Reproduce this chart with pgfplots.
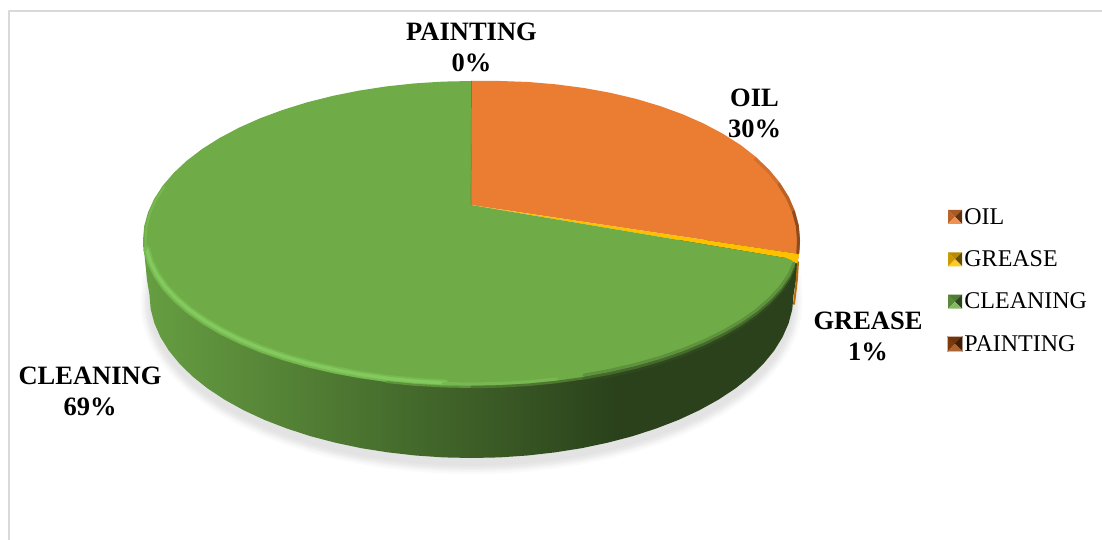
\documentclass[border=0pt]{standalone}
\usepackage{fontspec}
\setmainfont{Liberation Serif}
\usepackage{pgfplots}
\usepackage{pgfplotstable}
\pgfplotsset{compat=1.18}
\definecolor{oil}{HTML}{EB7D32}
\definecolor{grease}{HTML}{FFC000}
\definecolor{cleaning}{HTML}{6FAC47}
\definecolor{painting}{HTML}{9E480E}
\definecolor{frame}{HTML}{D9D9D9}
\definecolor{rimlight}{HTML}{82C95E}
\tikzset{lab/.style={font=\fontsize{26.5}{31}\selectfont\bfseries, align=center, inner sep=0pt}}
% side wall of the disc, light on the left and dark from x=620 on
\pgfdeclarehorizontalshading{sidewall}{100bp}{
  color(0bp)=(cleaning!92!black);
  color(25bp)=(cleaning!92!black);
  color(33bp)=(cleaning!80!black);
  color(41bp)=(cleaning!68!black);
  color(45bp)=(cleaning!62!black);
  color(52bp)=(cleaning!52!black);
  color(61bp)=(cleaning!38!black);
  color(75bp)=(cleaning!38!black);
  color(100bp)=(cleaning!38!black)}
% pixel coordinates of the lower edge of the disc, for the shadow
\pgfplotstableread{
x y
152 270
149.5 295
150.7 309.2
154.4 323.3
160.5 337.2
168.9 350.7
179.7 363.9
192.6 376.5
207.7 388.5
224.8 399.8
243.8 410.3
264.5 419.9
286.8 428.5
310.5 436.2
335.4 442.7
361.4 448.2
388.2 452.4
415.6 455.5
443.4 457.4
471.5 458
499.6 457.4
527.4 455.5
554.8 452.4
581.6 448.2
607.6 442.7
632.5 436.2
656.2 428.5
678.5 419.9
699.2 410.3
718.2 399.8
735.3 388.5
750.4 376.5
763.3 363.9
774.1 350.7
782.5 337.2
788.6 323.3
792.3 309.2
793.5 295
792 270
}\lowedge
% rim of the top face, lower left, lit
\pgfplotstableread{
x y
144.2 252.8
148 265.5
154.2 278
162.8 290.3
173.8 302.1
187 313.5
202.4 324.3
219.9 334.5
239.2 343.9
260.3 352.6
283.1 360.4
307.2 367.3
332.7 373.2
359.1 378.1
386.5 382
414.5 384.8
442.9 386.4
}\rimlit
% rim of the top face, lower right, in shade
\pgfplotstableread{
x y
583.9 378.1
610.3 373.2
635.8 367.3
659.9 360.4
682.7 352.6
703.8 343.9
723.1 334.5
740.6 324.3
756 313.5
769.2 302.1
780.2 290.3
788.8 278
794 266
}\rimdark
\newcommand\pyrkey[1]{%
  \fill[#1!80!black] (0pt,-7pt) -- (7pt,0pt) -- (0pt,7pt) -- cycle;
  \fill[#1!72!black] (0pt,7pt) -- (7pt,0pt) -- (14pt,7pt) -- cycle;
  \fill[#1!40!black] (14pt,7pt) -- (7pt,0pt) -- (14pt,-7pt) -- cycle;
  \fill[#1!85!white] (0pt,-7pt) -- (7pt,0pt) -- (14pt,-7pt) -- cycle;}
\begin{document}
\begin{tikzpicture}
\begin{axis}[
    scale only axis,
    width=1102pt,
    height=540pt,
    xmin=0, xmax=1102,
    ymin=0, ymax=540,
    y dir=reverse,
    ticks=none,
    axis line style={draw=none},
    axis background/.style={fill=white},
    legend style={at={(axis cs:947.5,206)}, anchor=north west, draw=none, fill=none,
      font=\fontsize{24}{26}\selectfont, row sep=21pt, inner sep=0pt},
    legend cell align=left,
    extra/.style={forget plot, line join=round, line cap=round},
  ]
  % frame of the chart area
  \addplot[extra, frame, line width=1.2pt] coordinates {(9,540) (9,11) (1102,11)};
  % shadow under the disc
  \addplot[extra, fill=black!2, draw=black!2, line width=18pt, yshift=-7pt] table {\lowedge};
  \addplot[extra, fill=black!4, draw=black!4, line width=14pt, yshift=-7pt] table {\lowedge};
  \addplot[extra, fill=black!7, draw=black!7, line width=10pt, yshift=-7pt] table {\lowedge};
  \addplot[extra, fill=black!9, draw=black!9, line width=6pt, yshift=-7pt] table {\lowedge};
  \addplot[extra, fill=black!11, draw=black!11, line width=2pt, yshift=-7pt] table {\lowedge};
  % side wall
  \addplot[extra, shade, shading=sidewall, draw=none] coordinates {
    (143,240) (147,280) (149.5,295) (150.7,309.2) (154.4,323.3) (160.5,337.2) (168.9,350.7)
    (179.7,363.9) (192.6,376.5) (207.7,388.5) (224.8,399.8) (243.8,410.3) (264.5,419.9)
    (286.8,428.5) (310.5,436.2) (335.4,442.7) (361.4,448.2) (388.2,452.4) (415.6,455.5)
    (443.4,457.4) (471.5,458) (499.6,457.4) (527.4,455.5) (554.8,452.4) (581.6,448.2)
    (607.6,442.7) (632.5,436.2) (656.2,428.5) (678.5,419.9) (699.2,410.3) (718.2,399.8)
    (735.3,388.5) (750.4,376.5) (763.3,363.9) (774.1,350.7) (782.5,337.2) (788.6,323.3)
    (792.3,309.2) (793.5,295) (796,280) (800,240)};
  % thin wall of the two small slices on the far right
  \addplot[extra, painting!70!grease, line width=2pt] coordinates {(798,262) (796.8,280) (794,304)};
  % OIL 30%
  \addplot[oil, fill=oil, draw=none, area legend,
    legend image code/.code={\pyrkey{oil}}] coordinates {
    (471,205) (471.5,81) (500.1,81) (528.5,82) (556.5,84.4) (583.9,88) (610.3,92.8)
    (635.8,98.8) (659.9,106) (682.7,114.3) (703.8,123.6) (723.1,133.9) (740.6,145)
    (756,157) (769.2,169.7) (780.2,183) (788.8,196.8) (795,211) (798.8,225.4) (800,240)
    (799.1,254) (471,205)};
  % GREASE 1%
  \addplot[grease, fill=grease, draw=none, area legend,
    legend image code/.code={\pyrkey{grease}}] coordinates {
    (471,205) (799.1,254) (797.5,263) (793,263) (786,258) (471,205)};
  % CLEANING 69%
  \addplot[cleaning, fill=cleaning, draw=none, area legend,
    legend image code/.code={\pyrkey{cleaning}}] coordinates {
    (471,205) (786,258) (792,260.5) (794.5,264) (793,270) (788.8,278) (780.2,290.3) (769.2,302.1)
    (756,313.5) (740.6,324.3) (723.1,334.5) (703.8,343.9) (682.7,352.6) (659.9,360.4)
    (635.8,367.3) (610.3,373.2) (583.9,378.1) (556.5,382) (528.5,384.8) (500.1,386.4)
    (471.5,387) (442.9,386.4) (414.5,384.8) (386.5,382) (359.1,378.1) (332.7,373.2)
    (307.2,367.3) (283.1,360.4) (260.3,352.6) (239.2,343.9) (219.9,334.5) (202.4,324.3)
    (187,313.5) (173.8,302.1) (162.8,290.3) (154.2,278) (148,265.5) (144.2,252.8) (143,240)
    (144.2,226.1) (148,212.4) (154.2,198.8) (162.8,185.6) (173.8,172.8) (187,160.5)
    (202.4,148.8) (219.9,137.8) (239.2,127.6) (260.3,118.2) (283.1,109.8) (307.2,102.3)
    (332.7,95.9) (359.1,90.6) (386.5,86.4) (414.5,83.4) (442.9,81.6) (471.5,81) (471,205)};
  % PAINTING 0%
  \addplot[painting!50!cleaning, line width=0.7pt, area legend,
    legend image code/.code={\pyrkey{painting}}] coordinates {(471,205) (471.5,81)};
  % bevel of the top face, lit part
  \addplot[extra, cleaning!60!rimlight, line width=7pt, xshift=2.5pt, yshift=3.5pt] table {\rimlit};
  \addplot[extra, rimlight, line width=3.5pt, xshift=2.5pt, yshift=3.5pt] table {\rimlit};
  \addplot[extra, cleaning!60!rimlight, line width=3pt, yshift=3pt] coordinates {
    (442.9,386.4) (471.5,387) (500.1,386.4) (528.5,384.8) (556.5,382)};
  \addplot[extra, cleaning!85!black, line width=2pt] coordinates {
    (386.5,382) (414.5,384.8) (442.9,386.4) (471.5,387)};
  \addplot[extra, cleaning!70!black, line width=2.5pt] coordinates {
    (471.5,387) (500.1,386.4) (528.5,384.8) (556.5,382) (583.9,378.1)};
  % bevel of the top face, shaded part
  \addplot[extra, cleaning!42!black, line width=3pt, yshift=-3pt] table {\rimdark};
  \addplot[extra, cleaning!62!black, line width=3pt] table {\rimdark};
  \addplot[extra, cleaning!85!black, line width=3pt, yshift=3pt] table {\rimdark};
  % thin bevel up the left edge
  \addplot[extra, cleaning!60!rimlight, line width=2pt] coordinates {
    (146,250) (145.5,240) (146.5,226.5) (150,213) (156,199.5) (164.5,187)};
  % dark bevel on the oil rim
  \addplot[extra, oil!90!black, line width=3pt] coordinates {(755,159) (768,171) (779,184.5)};
  \addplot[extra, oil!78!black, line width=3pt] coordinates {(779,184.5) (787.5,198) (793.5,212)};
  \addplot[extra, oil!60!black, line width=3pt] coordinates {(793.5,212) (797.3,226) (798.5,240) (797.8,253)};
  \legend{OIL,GREASE,CLEANING,PAINTING}
  \node[lab] at (axis cs:471.5,47) {PAINTING\\0\%};
  \node[lab] at (axis cs:754.5,113) {OIL\\30\%};
  \node[lab] at (axis cs:868,336) {GREASE\\1\%};
  \node[lab] at (axis cs:90,391) {CLEANING\\69\%};
\end{axis}
\end{tikzpicture}
\end{document}
